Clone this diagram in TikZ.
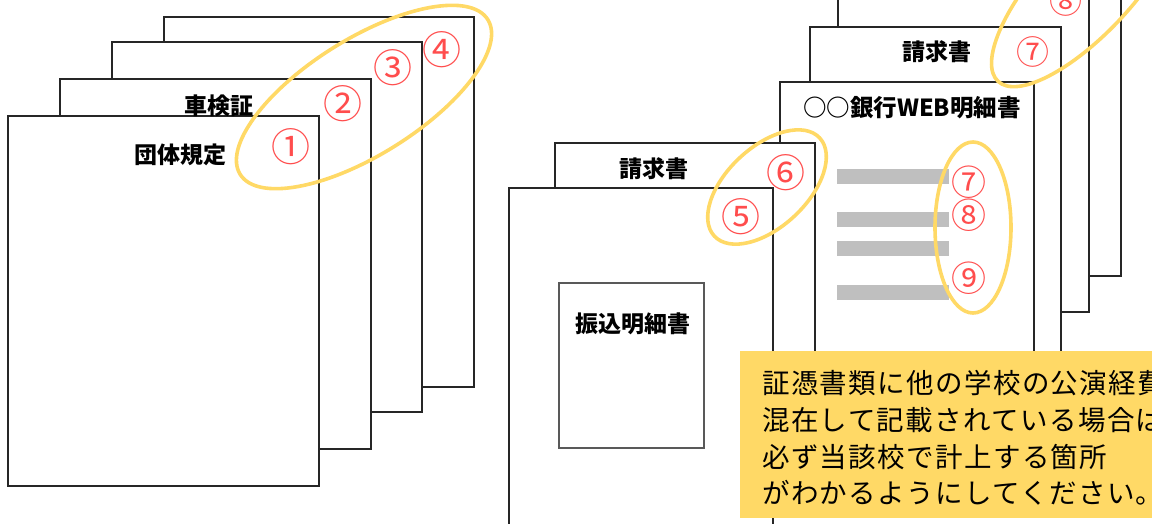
\documentclass[tikz,border=0pt]{standalone}
\usepackage{fontspec}
\setmainfont{Noto Sans CJK JP}
\newfontfamily\jpsp[LetterSpace=5]{Noto Sans CJK JP}
\definecolor{hlyellow}{HTML}{FFD966}
\definecolor{numred}{HTML}{FF4D4D}
\definecolor{bargray}{HTML}{BFBFBF}
\definecolor{edge}{HTML}{262626}
\tikzset{
  sheet/.style={draw=edge, line width=1.1pt, fill=white, anchor=north west, inner sep=0pt, outer sep=0pt},
  lbl/.style={font=\bfseries\fontsize{23}{23}\selectfont, inner sep=0pt},
  num/.style={text=numred, inner sep=0pt, font=\fontsize{39}{39}\selectfont},
  numsm/.style={text=numred, inner sep=0pt, font=\fontsize{35}{35}\selectfont},
  numxs/.style={text=numred, inner sep=0pt, font=\fontsize{33}{33}\selectfont},
  hl/.style={draw=hlyellow, line width=3.6pt},
  bar/.style={fill=bargray, draw=none, anchor=north west, inner sep=0pt, outer sep=0pt, minimum width=112pt, minimum height=15pt},
  note/.style={font=\jpsp\fontsize{27.5}{27.5}\selectfont, anchor=west, inner sep=0pt}
}
\begin{document}
\begin{tikzpicture}[x=1pt,y=-1pt]
\useasboundingbox (0,0) rectangle (1152,523);
\clip (0,0) rectangle (1152,523);
% left stack
\node[sheet, minimum width=310pt, minimum height=370pt] (s4) at (164,17) {};
\node[sheet, minimum width=310pt, minimum height=370pt] (s3) at (112,42) {};
\node[sheet, minimum width=311pt, minimum height=370pt] (s2) at (60,79) {};
\node[sheet, minimum width=311pt, minimum height=370pt] (s1) at (8,116) {};
% right stack
\node[sheet, minimum width=253pt, minimum height=376pt] (s10) at (868,-100) {};
\node[sheet, minimum width=251pt, minimum height=372pt] (s9) at (838,-60) {};
\node[sheet, minimum width=251pt, minimum height=370pt] (s8) at (810,27) {};
\node[sheet, minimum width=254pt, minimum height=370pt] (s7) at (780,82) {};
\node[sheet, minimum width=260pt, minimum height=370pt] (s6) at (555,143) {};
\node[sheet, minimum width=264pt, minimum height=372pt] (s5) at (509,188) {};
\node[sheet, draw=black!65, minimum width=145pt, minimum height=165pt] (furi) at (559,283) {};
% gray bars
\node[bar] (b1) at (837,169) {};
\node[bar] (b2) at (837,212) {};
\node[bar] (b3) at (837,241) {};
\node[bar] (b4) at (837,285) {};
% labels
\node[lbl] (t1) at (180,155) {団体規定};
\node[lbl] (t2) at (219,106) {車検証};
\node[lbl] (t6) at (654,169) {請求書};
\node[lbl] (t8) at (937,52) {請求書};
\node[lbl, font=\bfseries\fontsize{23.5}{23.5}\selectfont] (t7) at (912,108) {○○銀行WEB明細書};
\node[lbl] (tf) at (633,324) {振込明細書};
% numbers
\node[num] (n1) at (291,147) {①};
\node[num] (n2) at (343,104) {②};
\node[num] (n3) at (393,68) {③};
\node[num] (n4) at (442,50) {④};
\node[num] (n5) at (741,217) {⑤};
\node[num] (n6) at (786,173) {⑥};
\node[numxs] (n7u) at (1033,52) {⑦};
\node[numxs] (n8u) at (1066,1) {⑧};
\node[numsm] (n7) at (969,182) {⑦};
\node[numsm] (n8) at (969,215) {⑧};
\node[numsm] (n9) at (969,278) {⑨};
% highlight ellipses
\draw[hl, rotate around={32:(364,97)}] (364,97) ellipse [x radius=146pt, y radius=58pt];
\draw[hl, rotate around={43:(767,187)}] (767,187) ellipse [x radius=72pt, y radius=40pt];
\draw[hl, rotate around={47:(1086,-13)}] (1086,-13) ellipse [x radius=129pt, y radius=47pt];
\draw[hl] (973,227.5) ellipse [x radius=38pt, y radius=85.5pt];
% note box
\node[fill=hlyellow, anchor=north west, inner sep=0pt, minimum width=430pt, minimum height=167pt] (notebox) at (740,351) {};
\node[note] (l1) at (762,383) {証憑書類に他の学校の公演経費};
\node[note] (l2) at (762,420) {混在して記載されている場合は};
\node[note] (l3) at (762,457) {必ず当該校で計上する箇所};
\node[note] (l4) at (762,493) {がわかるようにしてください。};
\end{tikzpicture}
\end{document}
